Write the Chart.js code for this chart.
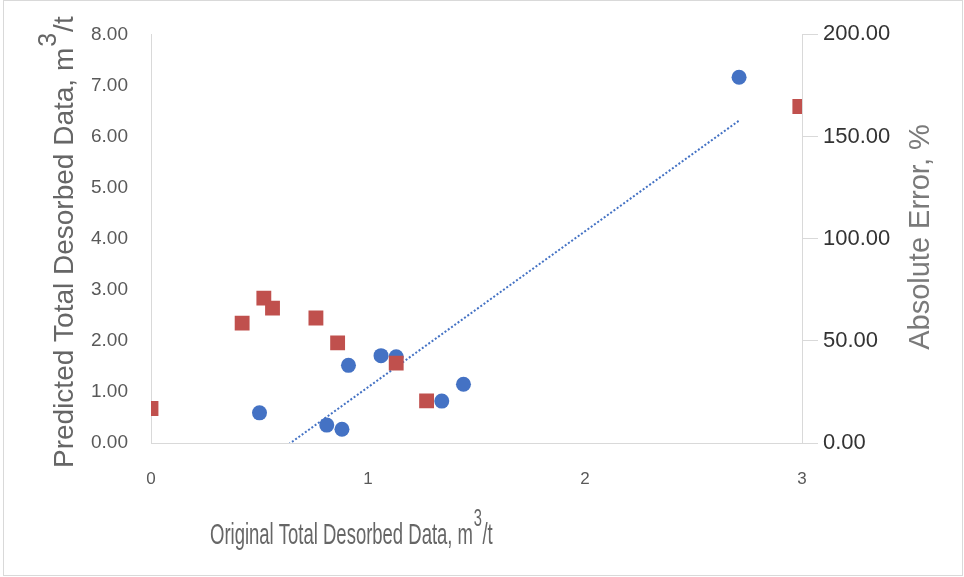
<!DOCTYPE html>
<html>
<head>
<meta charset="utf-8">
<title>Desorbed data</title>
<script src="https://cdn.jsdelivr.net/npm/chart.js@4/dist/chart.umd.min.js"></script>
<style>
  html, body { margin: 0; padding: 0; background: #fff; }
  #wrap { position: relative; width: 964px; height: 577px; }
</style>
</head>
<body>
<div id="wrap"><canvas id="desorbChart"></canvas></div>
<script>
// original vs predicted total desorbed data, m3/t
const originalData = [0.50, 0.81, 0.88, 0.91, 1.06, 1.13, 1.34, 1.44, 2.71];
const predictedData = [0.59, 0.35, 0.27, 1.52, 1.71, 1.69, 0.82, 1.15, 7.16];

// absolute error, % (secondary axis)
const errorX = [0.00, 0.42, 0.52, 0.56, 0.76, 0.86, 1.13, 1.27, 2.99];
const errorPct = [16.9, 58.7, 70.9, 66.0, 61.2, 49.0, 39.1, 20.6, 164.7];

// tick values
const xTicks = [0, 1, 2, 3];
const leftTicks = [0, 1, 2, 3, 4, 5, 6, 7, 8];
const rightTicks = [0, 50, 100, 150, 200];

const BLUE = '#4472C4';
const RED = '#C0504D';
const FONT = '"Liberation Sans", Arial, sans-serif';

// least squares line through the predicted points
function linearFit(xs, ys) {
    const n = xs.length;
    const mx = xs.reduce((a, b) => a + b, 0) / n;
    const my = ys.reduce((a, b) => a + b, 0) / n;
    let sxy = 0, sxx = 0;
    xs.forEach((x, i) => {
        sxy += (x - mx) * (ys[i] - my);
        sxx += (x - mx) * (x - mx);
    });
    const slope = sxy / sxx;
    return { slope, intercept: my - slope * mx };
}

const fit = linearFit(originalData, predictedData);
const fitX = [Math.min(...originalData), Math.max(...originalData)];
const trendPoints = fitX.map(x => ({ x, y: fit.slope * x + fit.intercept }));

const toPoints = (xs, ys) => xs.map((x, i) => ({ x, y: ys[i] }));
const setTicks = values => scale => { scale.ticks = values.map(v => ({ value: v })); };

// title with a raised "3" in the unit, drawn at the current origin
function drawUnitTitle(ctx, main, sup, tail, size, supSize, sx) {
    ctx.save();
    ctx.scale(sx, 1);
    ctx.textAlign = 'left';
    ctx.textBaseline = 'alphabetic';
    ctx.font = size + 'px ' + FONT;
    let x = 0;
    ctx.fillText(main, x, 0);
    x += ctx.measureText(main).width;
    ctx.font = supSize + 'px ' + FONT;
    ctx.fillText(sup, x + 1, -size * 0.62);
    x += ctx.measureText(sup).width + 2;
    ctx.font = size + 'px ' + FONT;
    ctx.fillText(tail, x, 0);
    ctx.restore();
}

const frameAndTitles = {
    id: 'frameAndTitles',
    beforeDraw(chart) {
        const ctx = chart.ctx;
        ctx.save();
        ctx.fillStyle = '#fff';
        ctx.fillRect(0, 0, chart.width, chart.height);
        ctx.strokeStyle = '#d9d9d9';
        ctx.lineWidth = 1;
        ctx.strokeRect(3.5, 0.5, chart.width - 5, chart.height - 2);
        ctx.restore();
    },
    afterDraw(chart) {
        const ctx = chart.ctx;
        ctx.save();

        // bottom axis title (narrow lettering)
        ctx.fillStyle = '#666666';
        ctx.font = '29px ' + FONT;
        const xMain = 'Original Total Desorbed Data, m';
        const sx = 263 / ctx.measureText(xMain).width;
        ctx.save();
        ctx.translate(210, 544);
        drawUnitTitle(ctx, xMain, '3', '/t', 29, 23, sx);
        ctx.restore();

        // left axis title
        ctx.save();
        ctx.translate(73, 468);
        ctx.rotate(-Math.PI / 2);
        drawUnitTitle(ctx, 'Predicted Total Desorbed Data, m', '3', '/t', 28, 25, 1);
        ctx.restore();

        // right axis title
        ctx.save();
        ctx.fillStyle = '#7a7a7a';
        ctx.translate(929, 237);
        ctx.rotate(-Math.PI / 2);
        ctx.font = '29px ' + FONT;
        ctx.textAlign = 'center';
        ctx.textBaseline = 'alphabetic';
        ctx.fillText('Absolute Error, %', 0, 0);
        ctx.restore();

        ctx.restore();
    }
};

new Chart(document.getElementById('desorbChart'), {
    type: 'scatter',
    data: {
        datasets: [
            {
                label: 'Absolute Error',
                data: toPoints(errorX, errorPct),
                yAxisID: 'y1',
                pointStyle: 'rect',
                pointRadius: 10.5,
                pointBorderWidth: 0,
                backgroundColor: RED,
                borderColor: RED,
                clip: 0,
                order: 0
            },
            {
                label: 'Predicted',
                data: toPoints(originalData, predictedData),
                yAxisID: 'y',
                pointStyle: 'circle',
                pointRadius: 7.5,
                pointBorderWidth: 0,
                backgroundColor: BLUE,
                borderColor: BLUE,
                clip: 0,
                order: 1
            },
            {
                label: 'Linear (Predicted)',
                type: 'line',
                data: trendPoints,
                yAxisID: 'y',
                borderColor: BLUE,
                borderWidth: 2,
                borderDash: [2, 2],
                pointRadius: 0,
                fill: false,
                clip: 0,
                order: 2
            }
        ]
    },
    options: {
        responsive: true,
        maintainAspectRatio: false,
        devicePixelRatio: 1,
        animation: false,
        layout: { padding: { top: 32, left: 0, right: 0, bottom: 0 } },
        plugins: {
            legend: { display: false },
            tooltip: { enabled: false }
        },
        scales: {
            x: {
                type: 'linear',
                min: 0,
                max: 3,
                afterBuildTicks: setTicks(xTicks),
                afterFit: s => { s.height = 134; },
                grid: { display: false, drawTicks: false },
                border: { display: true, color: '#d9d9d9', width: 1 },
                ticks: {
                    color: '#595959',
                    font: { family: FONT, size: 17 },
                    padding: 26,
                    maxRotation: 0,
                    callback: v => String(v)
                }
            },
            y: {
                type: 'linear',
                position: 'left',
                min: 0,
                max: 8,
                afterBuildTicks: setTicks(leftTicks),
                afterFit: s => { s.width = 151; },
                grid: { display: false, drawTicks: false },
                border: { display: true, color: '#d9d9d9', width: 1 },
                ticks: {
                    color: '#595959',
                    font: { family: FONT, size: 19 },
                    padding: 23,
                    callback: v => v.toFixed(2)
                }
            },
            y1: {
                type: 'linear',
                position: 'right',
                min: 0,
                max: 200,
                afterBuildTicks: setTicks(rightTicks),
                afterFit: s => { s.width = 162; },
                grid: { drawOnChartArea: false, drawTicks: true, tickLength: 16, color: '#d9d9d9' },
                border: { display: true, color: '#d9d9d9', width: 1 },
                ticks: {
                    color: '#333333',
                    font: { family: FONT, size: 22 },
                    padding: 5,
                    callback: v => v.toFixed(2)
                }
            }
        }
    },
    plugins: [frameAndTitles]
});
</script>
</body>
</html>
